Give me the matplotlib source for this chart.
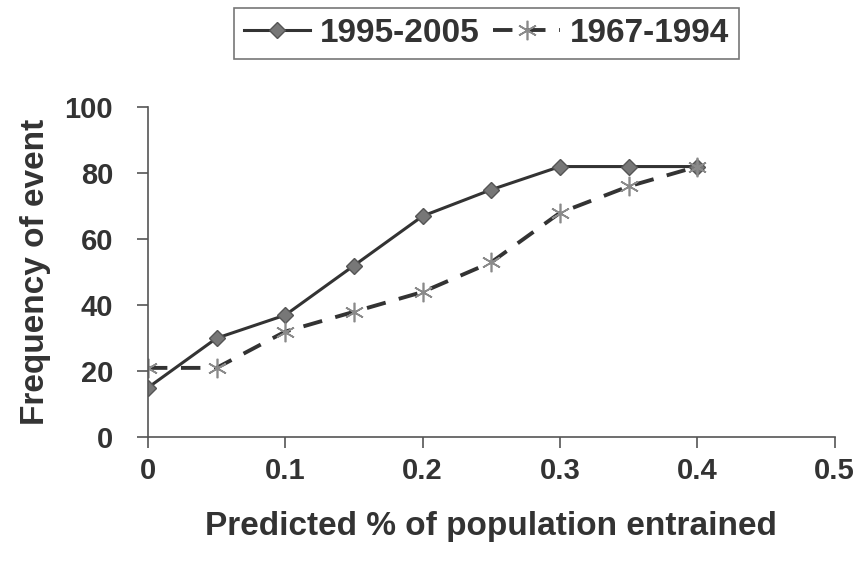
import matplotlib.pyplot as plt

plt.rcParams['font.family'] = ['Liberation Sans', 'DejaVu Sans']
plt.rcParams['font.weight'] = 'bold'

# data
x_vals = [0, 0.05, 0.1, 0.15, 0.2, 0.25, 0.3, 0.35, 0.4]
recent = [15, 30, 37, 52, 67, 75, 82, 82, 82]      # 1995-2005
older = [21, 21, 32, 38, 44, 53, 68, 76, 82]        # 1967-1994
x_ticks = [0, 0.1, 0.2, 0.3, 0.4, 0.5]
x_tick_labels = ['0', '0.1', '0.2', '0.3', '0.4', '0.5']
y_ticks = [0, 20, 40, 60, 80, 100]

fig = plt.figure(figsize=(8.65, 5.73), dpi=100)
ax = fig.add_axes([0.171, 0.237, 0.794, 0.576])

line_col = '#333333'
ax.plot(x_vals, recent, color=line_col, lw=2.2, marker='D', markersize=8,
        markerfacecolor='#777777', markeredgecolor='#555555', label='1995-2005')
ax.plot(x_vals, older, color=line_col, lw=2.8, ls=(0, (5, 3.5)),
        marker=(6, 2, 0), markersize=14, markeredgecolor='#8a8a8a',
        markeredgewidth=1.2, label='1967-1994')

ax.set_xlim(0, 0.5)
ax.set_ylim(0, 100)
ax.set_xticks(x_ticks)
ax.set_xticklabels(x_tick_labels)
ax.set_yticks(y_ticks)

for s in ['top', 'right']:
    ax.spines[s].set_visible(False)
for s in ['left', 'bottom']:
    ax.spines[s].set_color('#555555')
    ax.spines[s].set_linewidth(1.2)

ax.tick_params(axis='both', labelsize=21, colors='#555555', labelcolor='#333333',
               length=8, width=1.2, direction='out')
ax.tick_params(axis='x', pad=6)
ax.tick_params(axis='y', pad=17)

ax.set_xlabel('Predicted % of population entrained', fontsize=24,
              color='#333333', labelpad=19, fontweight='bold')
ax.set_ylabel('Frequency of event', fontsize=24, color='#333333',
              labelpad=10, fontweight='bold')

leg = ax.legend(loc='upper center', bbox_to_anchor=(0.493, 1.30), ncol=2,
                fontsize=24, frameon=True, fancybox=False, handlelength=2.0,
                columnspacing=0.4, handletextpad=0.3, borderpad=0.3,
                borderaxespad=0)
leg.get_frame().set_edgecolor('#555555')
leg.get_frame().set_linewidth(1.2)
for t in leg.get_texts():
    t.set_color('#333333')

fig.savefig('out.png', dpi=100)
